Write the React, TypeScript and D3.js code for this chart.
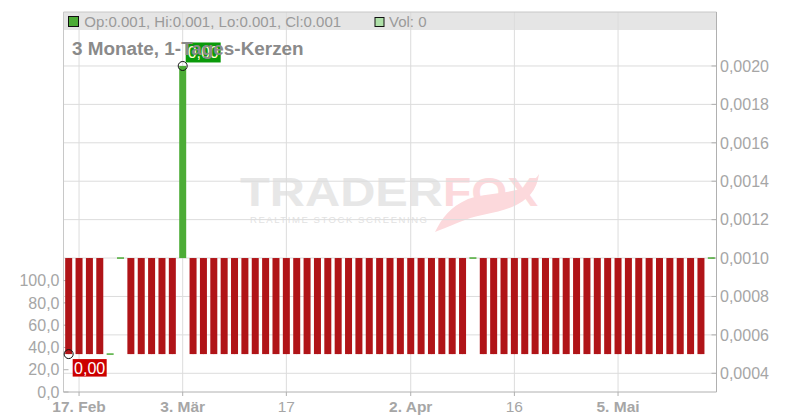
import React from "react";
import * as d3 from "d3";

const dates: string[] = [
  "2025-02-14", "2025-02-17", "2025-02-18", "2025-02-19", "2025-02-20", "2025-02-21",
  "2025-02-24", "2025-02-25", "2025-02-26", "2025-02-27", "2025-02-28",
  "2025-03-03", "2025-03-04", "2025-03-05", "2025-03-06", "2025-03-07",
  "2025-03-10", "2025-03-11", "2025-03-12", "2025-03-13", "2025-03-14",
  "2025-03-17", "2025-03-18", "2025-03-19", "2025-03-20", "2025-03-21",
  "2025-03-24", "2025-03-25", "2025-03-26", "2025-03-27", "2025-03-28",
  "2025-03-31", "2025-04-01", "2025-04-02", "2025-04-03", "2025-04-04",
  "2025-04-07", "2025-04-08", "2025-04-09", "2025-04-10", "2025-04-11",
  "2025-04-14", "2025-04-15", "2025-04-16", "2025-04-17",
  "2025-04-22", "2025-04-23", "2025-04-24", "2025-04-25",
  "2025-04-28", "2025-04-29", "2025-04-30", "2025-05-02",
  "2025-05-05", "2025-05-06", "2025-05-07", "2025-05-08", "2025-05-09",
  "2025-05-12", "2025-05-13", "2025-05-14", "2025-05-15", "2025-05-16",
];

const opens: number[] = [
  0.001, 0.001, 0.001, 0.001, 0.0005, 0.001, 0.001, 0.001, 0.001, 0.001,
  0.001, 0.001, 0.001, 0.001, 0.001, 0.001, 0.001, 0.001, 0.001, 0.001,
  0.001, 0.001, 0.001, 0.001, 0.001, 0.001, 0.001, 0.001, 0.001, 0.001,
  0.001, 0.001, 0.001, 0.001, 0.001, 0.001, 0.001, 0.001, 0.001, 0.001,
  0.001, 0.001, 0.001, 0.001, 0.001, 0.001, 0.001, 0.001, 0.001, 0.001,
  0.001, 0.001, 0.001, 0.001, 0.001, 0.001, 0.001, 0.001, 0.001, 0.001,
  0.001, 0.001, 0.001,
];

const closes: number[] = [
  0.0005, 0.0005, 0.0005, 0.0005, 0.0005, 0.001, 0.0005, 0.0005, 0.0005, 0.0005,
  0.0005, 0.002, 0.0005, 0.0005, 0.0005, 0.0005, 0.0005, 0.0005, 0.0005, 0.0005,
  0.0005, 0.0005, 0.0005, 0.0005, 0.0005, 0.0005, 0.0005, 0.0005, 0.0005, 0.0005,
  0.0005, 0.0005, 0.0005, 0.0005, 0.0005, 0.0005, 0.0005, 0.0005, 0.0005, 0.001,
  0.0005, 0.0005, 0.0005, 0.0005, 0.0005, 0.0005, 0.0005, 0.0005, 0.0005, 0.0005,
  0.0005, 0.0005, 0.0005, 0.0005, 0.0005, 0.0005, 0.0005, 0.0005, 0.0005, 0.0005,
  0.0005, 0.0005, 0.001,
];

const highs: number[] = opens.map((o, i) => Math.max(o, closes[i]));
const lows: number[] = opens.map((o, i) => Math.min(o, closes[i]));

const priceTicks: number[] = [0.0004, 0.0006, 0.0008, 0.001, 0.0012, 0.0014, 0.0016, 0.0018, 0.002];
const volumeTicks: number[] = [0, 20, 40, 60, 80, 100];
const xTickDates: string[] = ["2025-02-17", "2025-03-03", "2025-03-17", "2025-04-02", "2025-04-16", "2025-05-05"];
const xTickLabels: string[] = ["17. Feb", "3. Mär", "17", "2. Apr", "16", "5. Mai"];
const xTickBold: boolean[] = [true, true, false, true, false, true];

const legendText = "Op:0.001, Hi:0.001, Lo:0.001, Cl:0.001";
const volText = "Vol: 0";
const title = "3 Monate, 1-Tages-Kerzen";

const W = 800, H = 420;
const L = 63.5, R = 716.5, T = 12, B = 392;
const FONT = "'Liberation Sans', Arial, sans-serif";
const RED = "#b01418";
const GREEN = "#4cac36";

export default function App() {
  const x = d3.scaleBand<string>().domain(dates).range([L, R]).padding(0);
  const y = d3.scaleLinear().domain([0.0003026, 0.002281]).range([B, T]);
  const yv = d3.scaleLinear().domain([0, 100]).range([B, 280.6]);
  const fmtP = (v: number) => d3.format(".4f")(v).replace(".", ",");
  const fmtV = (v: number) => d3.format(".1f")(v).replace(".", ",");
  const cx = (d: string) => (x(d) as number) + x.bandwidth() / 2;
  const bw = 7;

  const maxIdx = d3.maxIndex(highs);
  const minIdx = d3.minIndex(lows);
  const maxX = cx(dates[maxIdx]), maxY = y(highs[maxIdx]);
  const minX = cx(dates[minIdx]), minY = y(lows[minIdx]);

  return (
    <svg width={W} height={H} style={{ position: "absolute", left: 0, top: 0, background: "#fff" }} fontFamily={FONT}>
      <rect x={0} y={0} width={W} height={H} fill="#fff" />
      {/* watermark */}
      <g>
        <text x={240} y={206} fontSize={40} fontWeight="bold" fill="#e7e7e7" textLength={203} lengthAdjust="spacingAndGlyphs">TRADER</text>
        <text x={443} y={206} fontSize={40} fontWeight="bold" fill="#fcd9dc" textLength={95} lengthAdjust="spacingAndGlyphs">FOX</text>
        <text x={250} y={223} fontSize={9.5} fill="#e2e2e2" textLength={177} lengthAdjust="spacing">REALTIME STOCK SCREENING</text>
        <path d="M435,232 C442,218 450,207 468,199 C485,193 505,194 520,189 C530,185 535,180 539,174 C537,190 528,200 512,207 C495,214 480,214 465,220 C452,225 443,229 435,232 Z" fill="#fcd9dc" />
      </g>
      {/* header band */}
      <rect x={L} y={T} width={R - L} height={18} fill="#e5e5e5" />
      {/* grid */}
      {priceTicks.map((t) => (
        <line key={"gy" + t} x1={L} x2={R} y1={y(t)} y2={y(t)} stroke="#dcdcdc" strokeWidth={1} />
      ))}
      {xTickDates.map((d) => (
        <line key={"gx" + d} x1={cx(d)} x2={cx(d)} y1={T} y2={B} stroke="#dcdcdc" strokeWidth={1} />
      ))}
      {/* border / axes */}
      <line x1={L} x2={R} y1={T} y2={T} stroke="#c8c8c8" />
      <line x1={L} x2={L} y1={T} y2={B} stroke="#c8c8c8" />
      <line x1={R} x2={R} y1={T} y2={B} stroke="#b0b0b0" />
      <line x1={L} x2={R} y1={B} y2={B} stroke="#b0b0b0" />
      {/* right axis */}
      {priceTicks.map((t) => (
        <g key={"py" + t}>
          <line x1={R - 5} x2={R} y1={y(t)} y2={y(t)} stroke="#b0b0b0" />
          <text x={720} y={y(t)} dy="0.36em" fontSize={16} fill="#a6a6a6">{fmtP(t)}</text>
        </g>
      ))}
      {/* left axis */}
      {volumeTicks.map((t) => (
        <g key={"vy" + t}>
          <line x1={L} x2={L + 5} y1={yv(t)} y2={yv(t)} stroke="#b0b0b0" />
          <text x={59.5} y={yv(t)} dy="0.36em" fontSize={16} fill="#a6a6a6" textAnchor="end">{fmtV(t)}</text>
        </g>
      ))}
      {/* bottom axis */}
      {xTickDates.map((d, i) => (
        <g key={"xt" + d}>
          <line x1={cx(d)} x2={cx(d)} y1={B} y2={B + 4} stroke="#b0b0b0" />
          <text x={cx(d)} y={411.5} fontSize={15.5} fontWeight={xTickBold[i] ? "bold" : "normal"} fill="#a6a6a6" textAnchor="middle">{xTickLabels[i]}</text>
        </g>
      ))}
      {/* candles */}
      {dates.map((d, i) => {
        const o = opens[i], c = closes[i];
        const up = c >= o;
        const top = y(Math.max(o, c)), bot = y(Math.min(o, c));
        const h = Math.max(bot - top, 1.5);
        return (
          <g key={"c" + d}>
            <line x1={cx(d)} x2={cx(d)} y1={y(highs[i])} y2={y(lows[i])} stroke={up ? GREEN : RED} />
            <rect x={cx(d) - bw / 2} y={bot - top < 1.5 ? top - 0.75 : top} width={bw} height={h} fill={up ? GREEN : RED} />
          </g>
        );
      })}
      {/* min / max markers */}
      <circle cx={maxX} cy={maxY} r={4.5} fill="none" stroke="#111" strokeWidth={1} />
      <rect x={maxX + 3} y={maxY - 23.5} width={35} height={20} fill="#0a9a0a" />
      <text x={maxX + 20.5} y={maxY - 8} fontSize={16} fill="#ffffd0" textAnchor="middle">{d3.format(".2f")(highs[maxIdx]).replace(".", ",")}</text>
      <circle cx={minX} cy={minY} r={4.5} fill="none" stroke="#111" strokeWidth={1} />
      <rect x={minX + 4} y={minY + 5} width={34} height={17.5} fill="#cc0000" />
      <text x={minX + 21} y={minY + 19.5} fontSize={16} fill="#fff" textAnchor="middle">{d3.format(".2f")(lows[minIdx]).replace(".", ",")}</text>
      {/* legend */}
      <rect x={68.5} y={16.5} width={10} height={10} fill={GREEN} stroke="#111" strokeWidth={1} />
      <text x={84.3} y={26.5} fontSize={15} fill="#9a9a9a">{legendText}</text>
      <rect x={375} y={17.5} width={9} height={9} fill="#aee0a8" stroke="#111" strokeWidth={1} />
      <text x={389} y={26.5} fontSize={15} fill="#9a9a9a">{volText}</text>
      {/* title */}
      <text x={72} y={54.5} fontSize={18.9} fontWeight="bold" fill="#8a8a8a">{title}</text>
    </svg>
  );
}
